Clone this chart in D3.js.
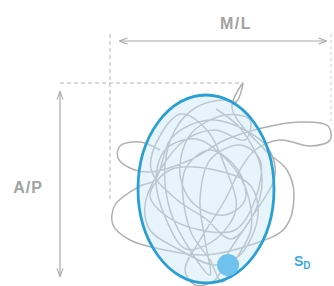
<!DOCTYPE html>
<html>
<head>
<meta charset="utf-8">
<script src="https://cdn.jsdelivr.net/npm/d3@7"></script>
<style>
html,body{margin:0;padding:0;background:#fff;}
svg{display:block;}
</style>
</head>
<body>
<script>
// Sway trajectory (M/L, A/P) in arbitrary units relative to ellipse centre
const swayML = [-46,-66,-86,-88,-76,-56,-16,19,56,94,122,124,104,74,49,34,19,-6,-21,-11,9,24,44,69,62,39,9,-16,-36,-51,-66,-91,-93,-76,-41,-1,44,79,88,81,59,26,37,30,16,-11,-31,-41,-36,-16,4,-1,-6,4,34,54,49,29,-6,-41,-56,-36,9,44,52,34,9,-26,-56,-61,-46,-21,9,39,44,19,-16,-26,-11,19,39,32,4,-21,-16,4,16,30,45,40,20,-10,-40,-50,-40,-20,10,30,20,0,-25,-45,-55,-30,0,25,50,55,35,10];
const swayAP = [39,47,43,31,21,17,29,49,61,67,63,49,43,49,39,19,-11,-51,-81,-96,-91,-61,-31,14,41,59,69,64,49,9,3,-16,-36,-51,-61,-66,-56,-39,-6,19,39,81,106,87,89,81,59,24,-21,-61,-86,-51,-11,29,44,29,-11,-41,-41,-26,-6,19,19,4,-26,-66,-76,-61,-41,-16,19,49,59,49,69,74,54,14,-16,-26,-11,19,39,19,-41,-71,-93,-70,-40,0,30,50,40,10,-30,-60,-50,-20,20,60,75,55,20,-10,-30,-50,-20,20,60,80];
// Confidence ellipse: centre and semi-axes
const ellipseCentre = [0, 0];
const ellipseRadii = [68, 94];
// Reference sway dot
const dotPos = [22, -76];
const dotRadius = 11;
const labels = {ml: "M/L", ap: "A/P", s: "S", sub: "D"};

const W = 334, H = 286;
const x = d3.scaleLinear().domain([-100, 100]).range([106, 306]);
const y = d3.scaleLinear().domain([-100, 100]).range([289, 89]);

const svg = d3.select("body").append("svg").attr("width", W).attr("height", H);

const defs = svg.append("defs");
defs.append("marker").attr("id","ah").attr("viewBox","0 0 10 10").attr("refX",9).attr("refY",5)
  .attr("markerWidth",7).attr("markerHeight",7).attr("orient","auto-start-reverse")
  .append("path").attr("d","M0,1.5 L10,5 L0,8.5").attr("fill","none").attr("stroke","#a8a8a8").attr("stroke-width",1.3);

const grey = "#b3b3b3";
// dashed guide lines
svg.append("line").attr("x1",110).attr("x2",110).attr("y1",34).attr("y2",200)
  .attr("stroke",grey).attr("stroke-dasharray","4,3").attr("stroke-width",1);
svg.append("line").attr("x1",60).attr("x2",x(37)).attr("y1",y(106)).attr("y2",y(106))
  .attr("stroke",grey).attr("stroke-dasharray","4,3").attr("stroke-width",1);
svg.append("line").attr("x1",331).attr("x2",331).attr("y1",34).attr("y2",122)
  .attr("stroke","#d0d0d0").attr("stroke-dasharray","3,3").attr("stroke-width",1);

// arrows
svg.append("line").attr("x1",120).attr("x2",326).attr("y1",41).attr("y2",41)
  .attr("stroke","#a8a8a8").attr("stroke-width",1.2)
  .attr("marker-start","url(#ah)").attr("marker-end","url(#ah)");
svg.append("line").attr("x1",60).attr("x2",60).attr("y1",92).attr("y2",276)
  .attr("stroke","#a8a8a8").attr("stroke-width",1.2)
  .attr("marker-start","url(#ah)").attr("marker-end","url(#ah)");

// labels
svg.append("text").attr("x",236).attr("y",29).attr("text-anchor","middle")
  .attr("font-family","Liberation Sans, Arial, sans-serif").attr("font-weight","bold")
  .attr("font-size",16).attr("letter-spacing",1.5).attr("fill","#a2a2a2").text(labels.ml);
svg.append("text").attr("x",28).attr("y",193).attr("text-anchor","middle")
  .attr("font-family","Liberation Sans, Arial, sans-serif").attr("font-weight","bold")
  .attr("font-size",16).attr("letter-spacing",1).attr("fill","#a2a2a2").text(labels.ap);

// sway path
const pts = swayML.map((v,i)=>[v, swayAP[i]]);
const line = d3.line().x(d=>x(d[0])).y(d=>y(d[1])).curve(d3.curveCatmullRom.alpha(0.5));
svg.append("path").attr("d", line(pts)).attr("fill","none")
  .attr("stroke","#b0b0b0").attr("stroke-width",1.5).attr("stroke-linejoin","round");

// ellipse
svg.append("ellipse").attr("cx",x(ellipseCentre[0])).attr("cy",y(ellipseCentre[1]))
  .attr("rx",x(ellipseRadii[0])-x(0)).attr("ry",y(0)-y(ellipseRadii[1]))
  .attr("fill","#cbe7f8").attr("fill-opacity",0.45)
  .attr("stroke","#2a9fd4").attr("stroke-width",2.8);

// dot
svg.append("circle").attr("cx",x(dotPos[0])).attr("cy",y(dotPos[1])).attr("r",dotRadius)
  .attr("fill","#6fc2ee");

// S_D label
const t = svg.append("text").attr("x",294).attr("y",266)
  .attr("font-family","Liberation Sans, Arial, sans-serif").attr("font-weight","bold")
  .attr("fill","#3aa9e0");
t.append("tspan").attr("font-size",14).text(labels.s);
t.append("tspan").attr("font-size",10).attr("dy",3).text(labels.sub);
</script>
</body>
</html>
